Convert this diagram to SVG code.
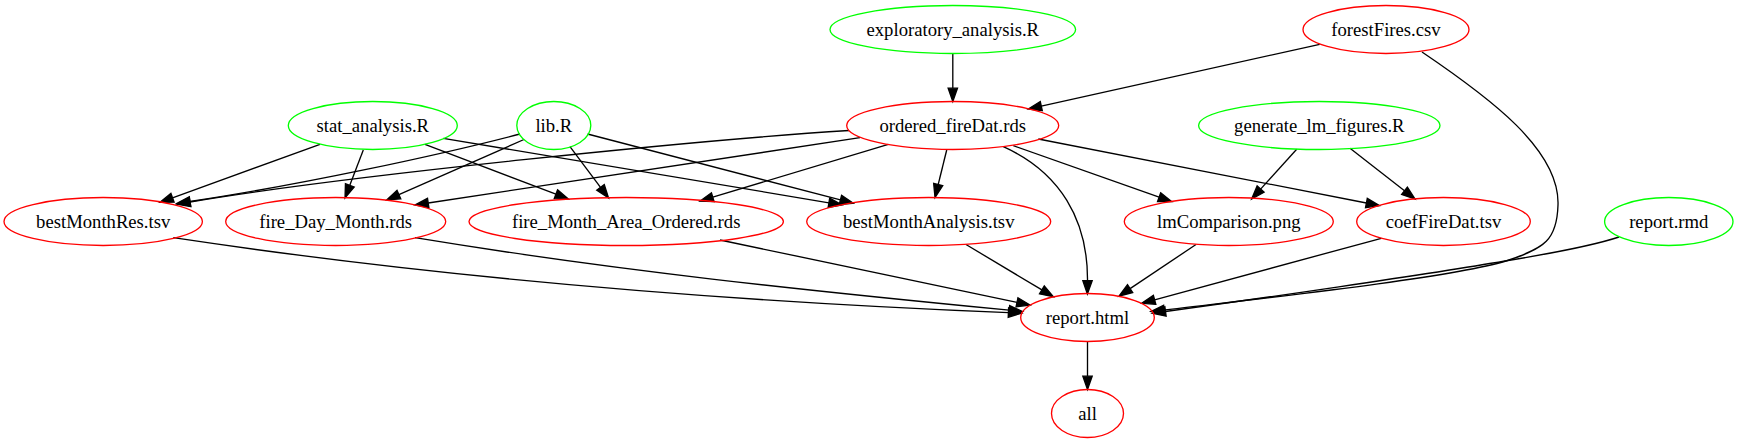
<svg xmlns="http://www.w3.org/2000/svg" width="1738" height="443" viewBox="0 0 1738 443">
<style>
  .n ellipse { fill: none; stroke-width: 1.33; }
  .g ellipse { stroke: #00ff00; }
  .r ellipse { stroke: #ff0000; }
  .n text { font-family: "Liberation Serif", "Times New Roman", serif; font-size: 18.67px; text-anchor: middle; fill: #000; }
  #edges path { fill: none; stroke: #000; stroke-width: 1.33; marker-end: url(#ah); }
</style>
<defs>
  <marker id="ah" viewBox="-1 -6 16 12" refX="0" refY="0" markerWidth="16" markerHeight="12" orient="auto" markerUnits="userSpaceOnUse" overflow="visible">
    <path d="M0,-4.67 L13.33,0 L0,4.67 Z" fill="#000" stroke="#000" stroke-width="1.33"/>
  </marker>
</defs>
<rect x="0" y="0" width="1738" height="443" fill="#fff"/>
<g id="edges">
  <path d="M952.8,53.5 L952.8,88.2"/>
  <path d="M1319.7,44.3 L1041.3,106.1"/>
  <path d="M1422,52 C1490,98 1560,150 1558,205 C1557,240 1545,248 1506,261 C1450,278 1260,298.5 1164.2,310"/>
  <path d="M1619,237 C1598,244 1560,252 1505,261 C1430,274 1250,300 1165.5,311.5"/>
  <path d="M320,144.3 L172.5,197.8"/>
  <path d="M363.3,150 L349.8,185.3"/>
  <path d="M425,144.3 L555.9,194.2"/>
  <path d="M443.3,138.3 L828.9,202.8"/>
  <path d="M520,134 C440,155 300,185 190,201.5"/>
  <path d="M524,139.5 L398.9,194.6"/>
  <path d="M570,146.7 L600.5,187.3"/>
  <path d="M587.5,134 L840.4,199.9"/>
  <path d="M849,130.5 C700,140 350,175 190,202"/>
  <path d="M860,137.7 L428.2,203"/>
  <path d="M888.3,144.3 L712.8,197.2"/>
  <path d="M946.7,150 L938.2,184.5"/>
  <path d="M1003.3,146.7 C1060,172 1088,220 1087.5,280.7"/>
  <path d="M1013.3,145.7 L1159.1,197.2"/>
  <path d="M1038.3,139 L1366.4,203"/>
  <path d="M1296.7,149.3 L1260.6,189.1"/>
  <path d="M1350,148.3 L1404.5,190.8"/>
  <path d="M173.3,237.7 C453.3,279.7 728.4,301.4 1008.4,312.6"/>
  <path d="M415,237.7 C615,270.7 809.2,290.8 1009.2,310.2"/>
  <path d="M720,240 L1017,302.3"/>
  <path d="M966,244.5 L1041.9,289.9"/>
  <path d="M1196,244.5 L1130.1,288.6"/>
  <path d="M1381.3,238.3 L1154.6,299.8"/>
  <path d="M1087.5,341.5 L1087.5,376.2"/>
</g>
<g id="nodes">
<g id="exploratory_analysis.R" class="n g"><ellipse cx="952.8" cy="29.5" rx="122.8" ry="24"/><text x="952.8" y="35.8">exploratory_analysis.R</text></g>
<g id="forestFires.csv" class="n r"><ellipse cx="1386" cy="29.5" rx="83" ry="24"/><text x="1386" y="35.8">forestFires.csv</text></g>
<g id="stat_analysis.R" class="n g"><ellipse cx="372.8" cy="125.5" rx="84.5" ry="24"/><text x="372.8" y="131.8">stat_analysis.R</text></g>
<g id="lib.R" class="n g"><ellipse cx="553.8" cy="125.5" rx="37" ry="24"/><text x="553.8" y="131.8">lib.R</text></g>
<g id="ordered_fireDat.rds" class="n r"><ellipse cx="952.7" cy="125.5" rx="106" ry="24"/><text x="952.7" y="131.8">ordered_fireDat.rds</text></g>
<g id="generate_lm_figures.R" class="n g"><ellipse cx="1319.3" cy="125.5" rx="120.7" ry="24"/><text x="1319.3" y="131.8">generate_lm_figures.R</text></g>
<g id="bestMonthRes.tsv" class="n r"><ellipse cx="103.2" cy="221.5" rx="99.2" ry="24"/><text x="103.2" y="227.8">bestMonthRes.tsv</text></g>
<g id="fire_Day_Month.rds" class="n r"><ellipse cx="335.7" cy="221.5" rx="110" ry="24"/><text x="335.7" y="227.8">fire_Day_Month.rds</text></g>
<g id="fire_Month_Area_Ordered.rds" class="n r"><ellipse cx="626.2" cy="221.5" rx="157.2" ry="24"/><text x="626.2" y="227.8">fire_Month_Area_Ordered.rds</text></g>
<g id="bestMonthAnalysis.tsv" class="n r"><ellipse cx="928.7" cy="221.5" rx="122" ry="24"/><text x="928.7" y="227.8">bestMonthAnalysis.tsv</text></g>
<g id="lmComparison.png" class="n r"><ellipse cx="1228.8" cy="221.5" rx="104.5" ry="24"/><text x="1228.8" y="227.8">lmComparison.png</text></g>
<g id="coefFireDat.tsv" class="n r"><ellipse cx="1443.5" cy="221.5" rx="86.8" ry="24"/><text x="1443.5" y="227.8">coefFireDat.tsv</text></g>
<g id="report.rmd" class="n g"><ellipse cx="1668.8" cy="221.5" rx="64.2" ry="24"/><text x="1668.8" y="227.8">report.rmd</text></g>
<g id="report.html" class="n r"><ellipse cx="1087.5" cy="317.5" rx="66.8" ry="24"/><text x="1087.5" y="323.8">report.html</text></g>
<g id="all" class="n r"><ellipse cx="1087.5" cy="413.5" rx="36" ry="24"/><text x="1087.5" y="419.8">all</text></g>
</g>
</svg>
